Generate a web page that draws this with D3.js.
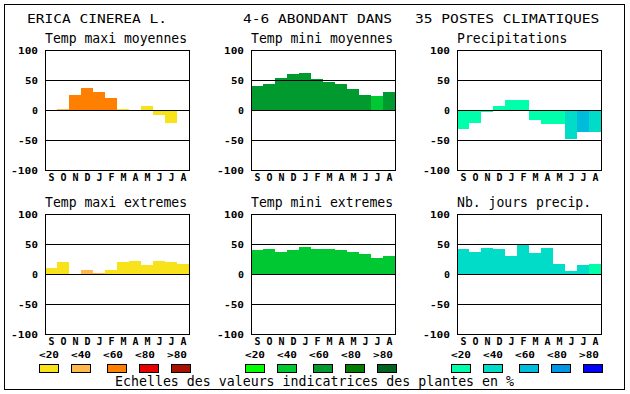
<!DOCTYPE html>
<html><head><meta charset="utf-8">
<script src="https://cdn.jsdelivr.net/npm/d3@7"></script>
<style>
body{margin:0;background:#fff;}
svg{display:block;}
text{font-family:"DejaVu Sans Mono",monospace;fill:#000;}
.b{font-weight:bold;font-size:9.5px;}
.m{font-weight:bold;font-size:10px;}
</style></head><body>
<script>
// ---- data ----
const months = ["S","O","N","D","J","F","M","A","M","J","J","A"];
const tickValues = [100, 50, 0, -50, -100];
const legendLabels = ["<20","<40","<60","<80",">80"];

const tmaxMoy    = [0, 2, 25, 37, 30, 20, 2, 0, 7, -8, -21, 0];
const tmaxMoyCls = [0, 1, 2, 2, 2, 2, 0, 0, 0, 0, 0, 0];
const tminMoy    = [40, 44, 53, 60, 62, 52, 47, 44, 35, 25, 23, 30];
const tminMoyCls = [2, 2, 2, 2, 2, 2, 2, 2, 2, 2, 1, 2];
const precip     = [-32, -21, -4, 7, 17, 17, -17, -23, -23, -49, -36, -37];
const precipCls  = [0, 0, 0, 0, 0, 0, 0, 0, 0, 1, 2, 1];
const tmaxExt    = [10, 20, -2, 7, 2, 7, 20, 22, 15, 22, 20, 17];
const tmaxExtCls = [0, 0, 0, 1, 1, 0, 0, 0, 0, 0, 0, 0];
const tminExt    = [40, 42, 37, 40, 45, 42, 42, 40, 37, 34, 27, 30];
const tminExtCls = [1, 1, 1, 1, 1, 1, 1, 1, 1, 1, 1, 1];
const nbJours    = [42, 37, 44, 42, 30, 49, 35, 44, 17, 5, 15, 17];
const nbJoursCls = [1, 1, 1, 1, 1, 1, 1, 1, 1, 1, 1, 0];

const titleLeft  = "ERICA CINEREA L.";
const titleMid   = "4-6 ABONDANT DANS";
const titleRight = "35 POSTES CLIMATIQUES";
const footer = "Echelles des valeurs indicatrices des plantes en %";

const yellowScale = ["#f8e21a","#ffb84c","#ff8000","#e80000","#a81000"];
const greenScale  = ["#00ff00","#00c832","#009a2e","#007d00","#006420"];
const blueScale   = ["#00ffaa","#00dcc8","#00bcdc","#0096e6","#0000ff"];

const panels = [
  {title:"Temp maxi moyennes", vals:tmaxMoy, cls:tmaxMoyCls, pal:yellowScale, col:0, row:0},
  {title:"Temp mini moyennes", vals:tminMoy, cls:tminMoyCls, pal:greenScale, col:1, row:0},
  {title:"Precipitations",     vals:precip,  cls:precipCls,  pal:blueScale,  col:2, row:0},
  {title:"Temp maxi extremes", vals:tmaxExt, cls:tmaxExtCls, pal:yellowScale, col:0, row:1},
  {title:"Temp mini extremes", vals:tminExt, cls:tminExtCls, pal:greenScale, col:1, row:1},
  {title:"Nb. jours precip.",  vals:nbJours, cls:nbJoursCls, pal:blueScale,  col:2, row:1}
];

// ---- layout ----
const W = 630, H = 394;
const colLeft = [45, 251, 457];
const rowTop = [50, 214];
const PW = 144, PH = 120;

const svg = d3.select("body").append("svg").attr("width", W).attr("height", H);
svg.append("rect").attr("width", W).attr("height", H).attr("fill", "#fff");
svg.append("rect").attr("x", 4.5).attr("y", 4.5).attr("width", 620).attr("height", 385)
  .attr("fill", "none").attr("stroke", "#000").attr("stroke-width", 1);

// titles
svg.append("text").attr("x", 27).attr("y", 23).attr("font-size", 13)
  .attr("textLength", titleLeft.length * 8.85 - 1.5).attr("lengthAdjust", "spacingAndGlyphs").text(titleLeft);
svg.append("text").attr("x", 243).attr("y", 23).attr("font-size", 13)
  .attr("textLength", titleMid.length * 8.85 - 1.5).attr("lengthAdjust", "spacingAndGlyphs").text(titleMid);
svg.append("text").attr("x", 415).attr("y", 23).attr("font-size", 13)
  .attr("textLength", titleRight.length * 8.85 - 1.5).attr("lengthAdjust", "spacingAndGlyphs").text(titleRight);

panels.forEach(p => {
  const L = colLeft[p.col], T = rowTop[p.row];
  const g = svg.append("g");
  const x = d3.scaleBand().domain(d3.range(months.length)).range([L, L + PW]).paddingInner(0).paddingOuter(0);
  const y = d3.scaleLinear().domain([-100, 100]).range([T + PH, T]);

  g.append("text").attr("x", L).attr("y", T - 7).attr("font-size", 13.2)
    .attr("textLength", p.title.length * 7.95 - 1).attr("lengthAdjust", "spacingAndGlyphs").text(p.title);

  // bars
  g.selectAll("rect.bar").data(p.vals).enter().append("rect").attr("class", "bar")
    .attr("x", (d, i) => x(i)).attr("width", x.bandwidth())
    .attr("y", d => Math.min(y(d), y(0)))
    .attr("height", d => Math.abs(y(d) - y(0)))
    .attr("fill", (d, i) => p.pal[p.cls[i]])
    .attr("shape-rendering", "crispEdges");

  // grid lines
  g.selectAll("line.grid").data([50, 0, -50]).enter().append("line")
    .attr("x1", L).attr("x2", L + PW)
    .attr("y1", d => y(d) + 0.5).attr("y2", d => y(d) + 0.5)
    .attr("stroke", "#000").attr("stroke-width", 1).attr("shape-rendering", "crispEdges");

  // frame
  g.append("rect").attr("x", L + 0.5).attr("y", T + 0.5).attr("width", PW).attr("height", PH)
    .attr("fill", "none").attr("stroke", "#000").attr("stroke-width", 1).attr("shape-rendering", "crispEdges");

  // y tick labels
  g.selectAll("text.yt").data(tickValues).enter().append("text").attr("class", "b")
    .attr("x", L - 7).attr("y", d => y(d) + 4).attr("text-anchor", "end")
    .attr("textLength", d => String(d).length * 7 - 1).attr("lengthAdjust", "spacingAndGlyphs")
    .text(d => d);

  // month labels
  g.selectAll("text.mt").data(months).enter().append("text").attr("class", "m")
    .attr("x", (d, i) => x(i) + x.bandwidth() / 2 + 0.5).attr("y", T + PH + 10.5)
    .attr("text-anchor", "middle")
    .attr("textLength", 6).attr("lengthAdjust", "spacingAndGlyphs")
    .text(d => d);

  // legend (only from bottom row)
  if (p.row === 1) {
    const lx = L - 6;
    const boxOff = [0, 32, 68, 100, 132];
    const labOff = [0, 32, 64, 96, 128];
    g.selectAll("text.lg").data(legendLabels).enter().append("text").attr("class", "b")
      .attr("x", (d, i) => lx + labOff[i]).attr("y", 358)
      .attr("textLength", 20).attr("lengthAdjust", "spacingAndGlyphs").text(d => d);
    g.selectAll("rect.lg").data(p.pal).enter().append("rect")
      .attr("x", (d, i) => lx + boxOff[i] + 0.5).attr("y", 364.5)
      .attr("width", 19).attr("height", 8)
      .attr("fill", d => d).attr("stroke", "#000").attr("stroke-width", 1)
      .attr("shape-rendering", "crispEdges");
  }
});

svg.append("text").attr("x", 115).attr("y", 386).attr("font-size", 13.3)
  .attr("textLength", 399).attr("lengthAdjust", "spacingAndGlyphs").text(footer);
</script>
</body></html>
